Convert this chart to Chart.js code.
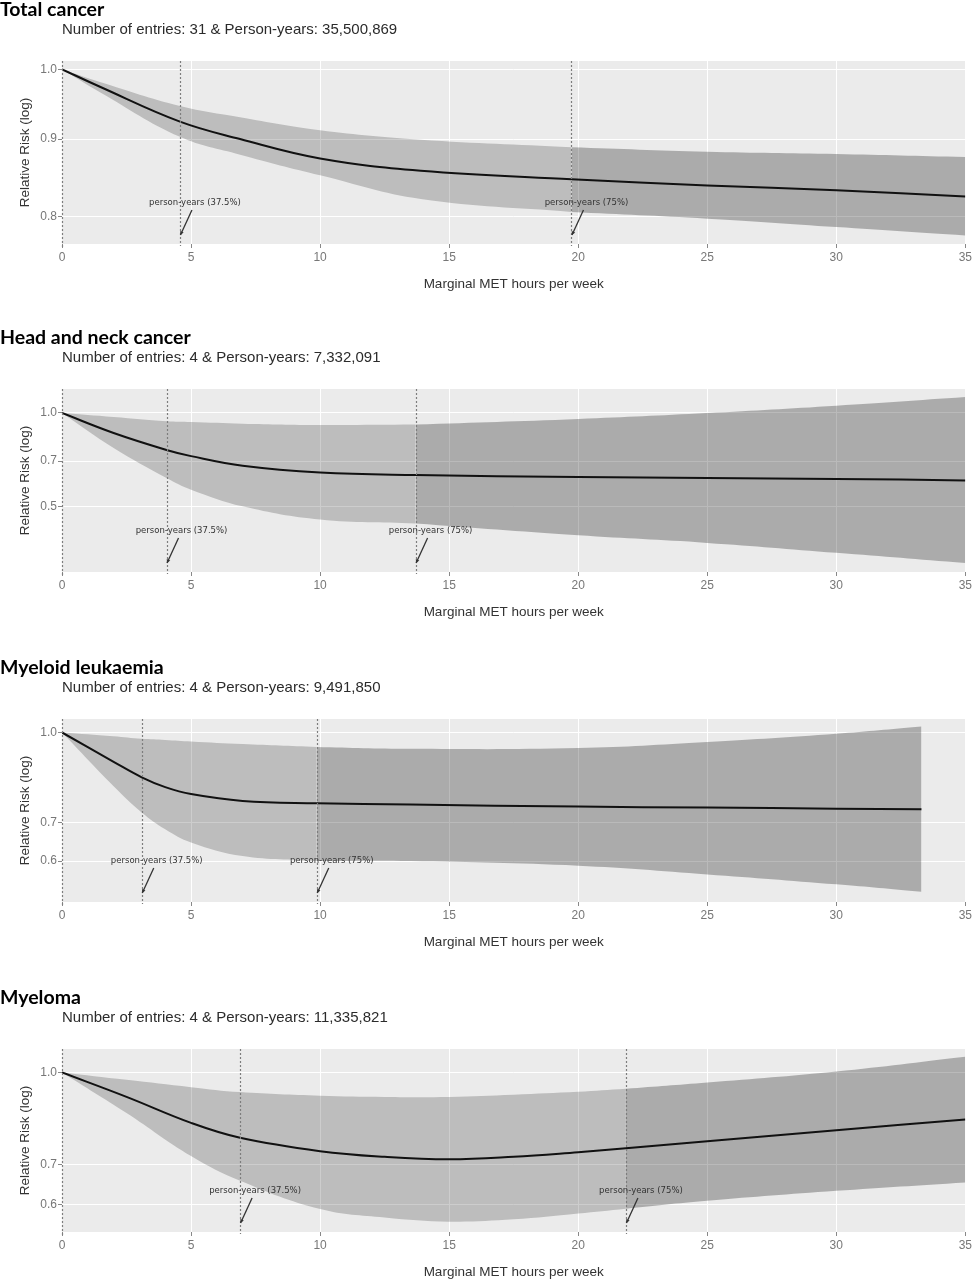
<!DOCTYPE html>
<html>
<head>
<meta charset="utf-8">
<title>Marginal MET hours per week and cancer risk</title>
<script src="https://cdn.jsdelivr.net/npm/chart.js@4.4.1/dist/chart.umd.min.js"></script>
<style>
  html, body { margin: 0; padding: 0; background: #fff; }
  body { width: 974px; height: 1280px; position: relative; overflow: hidden; }
  .panel { position: absolute; left: 0; width: 974px; height: 295px; }
  .panel canvas { display: block; }
</style>
</head>
<body>
<div class="panel" style="top:0px"><canvas id="c0" width="974" height="295"></canvas></div>
<div class="panel" style="top:328px"><canvas id="c1" width="974" height="295"></canvas></div>
<div class="panel" style="top:658px"><canvas id="c2" width="974" height="295"></canvas></div>
<div class="panel" style="top:988px"><canvas id="c3" width="974" height="295"></canvas></div>

<script>
// Panel headings
const panelTitles = ['Total cancer', 'Head and neck cancer', 'Myeloid leukaemia', 'Myeloma'];
const panelSubtitles = [
  'Number of entries: 31 & Person-years: 35,500,869',
  'Number of entries: 4 & Person-years: 7,332,091',
  'Number of entries: 4 & Person-years: 9,491,850',
  'Number of entries: 4 & Person-years: 11,335,821'
];

// Total cancer (x = marginal MET hours per week, values = relative risk)
const totalX   = [0, 1.47, 4.57, 6.9, 10, 13.9, 19.74, 25, 30, 35];
const totalRR  = [1.0, 0.974, 0.924, 0.900, 0.874, 0.858, 0.847, 0.839, 0.833, 0.825];
const totalLow = [1.0, 0.966, 0.903, 0.879, 0.852, 0.822, 0.806, 0.798, 0.788, 0.778];
const totalUp  = [1.0, 0.981, 0.946, 0.930, 0.912, 0.899, 0.889, 0.883, 0.880, 0.876];

// Head and neck cancer
const headX   = [0, 2, 4.05, 5, 7, 10, 13.7, 20, 25, 30, 35];
const headRR  = [1.0, 0.862, 0.760, 0.726, 0.676, 0.643, 0.631, 0.622, 0.617, 0.613, 0.606];
const headLow = [1.0, 0.771, 0.617, 0.566, 0.500, 0.453, 0.440, 0.403, 0.381, 0.354, 0.328];
const headUp  = [1.0, 0.971, 0.940, 0.935, 0.924, 0.915, 0.918, 0.957, 1.000, 1.056, 1.126];

// Myeloid leukaemia
const myelX   = [0, 2, 3.09, 4, 5, 7, 9.87, 13.5, 20, 25, 30, 33.3];
const myelRR  = [1.0, 0.890, 0.837, 0.805, 0.783, 0.762, 0.755, 0.751, 0.745, 0.742, 0.739, 0.737];
const myelLow = [1.0, 0.808, 0.728, 0.681, 0.646, 0.612, 0.600, 0.600, 0.589, 0.569, 0.547, 0.531];
const myelUp  = [1.0, 0.985, 0.975, 0.971, 0.965, 0.955, 0.944, 0.937, 0.940, 0.963, 0.995, 1.024];

// Myeloma
const mmX   = [0, 2.5, 5, 6.9, 10, 12.5, 15, 17.5, 20, 21.85, 25, 30, 35];
const mmRR  = [1.0, 0.910, 0.823, 0.777, 0.738, 0.722, 0.715, 0.722, 0.735, 0.746, 0.767, 0.800, 0.834];
const mmLow = [1.0, 0.855, 0.724, 0.658, 0.590, 0.571, 0.562, 0.567, 0.580, 0.591, 0.609, 0.633, 0.654];
const mmUp  = [1.0, 0.972, 0.945, 0.927, 0.914, 0.910, 0.910, 0.918, 0.928, 0.939, 0.962, 1.004, 1.063];

// person-years reference lines (37.5% and 75%)
const personYearMarks = [[4.57, 19.74], [4.05, 13.7], [3.09, 9.87], [6.9, 21.85]];
const markLabels = ['person-years (37.5%)', 'person-years (75%)'];

// axes
const yTickValues = [[1.0, 0.9, 0.8], [1.0, 0.7, 0.5], [1.0, 0.7, 0.6], [1.0, 0.7, 0.6]];
const yRanges = [[0.768, 1.0126], [0.307, 1.195], [0.513, 1.055], [0.542, 1.095]];
const xMax = 35;
const xStep = 5;

const panels = [
  { x: totalX, rr: totalRR, low: totalLow, up: totalUp },
  { x: headX, rr: headRR, low: headLow, up: headUp },
  { x: myelX, rr: myelRR, low: myelLow, up: myelUp },
  { x: mmX, rr: mmRR, low: mmLow, up: mmUp }
];

const SANS = '"Liberation Sans", Arial, sans-serif';

// build {x,y} points within [from, to]
function pts(xs, ys, from, to) {
  const out = [];
  xs.forEach((x, i) => {
    if (x >= from && x <= to) out.push({ x: x, y: ys[i] });
  });
  return out;
}

// grey panel, headings, dotted reference lines and arrows
const panelDecor = {
  id: 'panelDecor',
  beforeDraw(chart, args, o) {
    const { ctx, chartArea: a } = chart;
    ctx.save();
    ctx.fillStyle = '#ebebeb';
    ctx.fillRect(a.left, a.top, a.right - a.left, a.bottom - a.top);
    ctx.textBaseline = 'alphabetic';
    ctx.textAlign = 'left';
    ctx.fillStyle = '#000';
    ctx.font = 'bold 19.5px Lato, sans-serif';
    ctx.fillText(o.title, 0, a.top - 45);
    ctx.fillStyle = '#2b2b2b';
    ctx.font = '15px ' + SANS;
    ctx.fillText(o.subtitle, a.left, a.top - 27);
    ctx.restore();
  },
  afterDatasetsDraw(chart, args, o) {
    const { ctx, chartArea: a, scales: { x } } = chart;
    ctx.save();
    ctx.strokeStyle = '#7d7d7d';
    ctx.lineWidth = 1.2;
    ctx.setLineDash([2, 2]);
    [0].concat(o.marks).forEach((v, i) => {
      const px = Math.round(x.getPixelForValue(v)) + 0.5;
      ctx.beginPath();
      ctx.moveTo(px, a.top);
      ctx.lineTo(px, a.bottom + (i === 0 ? 4 : 2));
      ctx.stroke();
    });
    ctx.setLineDash([]);

    o.marks.forEach((v, i) => {
      const px = x.getPixelForValue(v);
      const sx = px + 12, sy = a.bottom - 34;
      const tx = px + 0.5, ty = a.bottom - 9;
      ctx.strokeStyle = '#333';
      ctx.fillStyle = '#333';
      ctx.lineWidth = 1.3;
      ctx.beginPath();
      ctx.moveTo(sx, sy);
      ctx.lineTo(tx, ty);
      ctx.stroke();
      // small arrow head
      const ang = Math.atan2(ty - sy, tx - sx);
      ctx.beginPath();
      ctx.moveTo(tx, ty);
      ctx.lineTo(tx - 4 * Math.cos(ang - 0.5), ty - 4 * Math.sin(ang - 0.5));
      ctx.lineTo(tx - 4 * Math.cos(ang + 0.5), ty - 4 * Math.sin(ang + 0.5));
      ctx.closePath();
      ctx.fill();

      ctx.font = '8.5px "DejaVu Sans", sans-serif';
      ctx.textAlign = 'center';
      ctx.textBaseline = 'middle';
      ctx.fillText(o.labels[i], px + 15, a.bottom - 41);
    });
    ctx.restore();
  }
};

panels.forEach((p, i) => {
  const last = p.x[p.x.length - 1];
  const split = personYearMarks[i][1];
  const lightFill = 'rgba(0,0,0,0.195)';
  const darkFill = 'rgba(0,0,0,0.27)';
  const band = {
    borderWidth: 0,
    borderColor: 'rgba(0,0,0,0)',
    pointRadius: 0,
    tension: 0.4
  };

  new Chart(document.getElementById('c' + i), {
    type: 'line',
    data: {
      datasets: [
        Object.assign({ label: 'upper', data: pts(p.x, p.up, 0, split), fill: false }, band),
        Object.assign({ label: 'lower', data: pts(p.x, p.low, 0, split), fill: '-1', backgroundColor: lightFill }, band),
        Object.assign({ label: 'upper2', data: pts(p.x, p.up, split, last), fill: false }, band),
        Object.assign({ label: 'lower2', data: pts(p.x, p.low, split, last), fill: '-1', backgroundColor: darkFill }, band),
        {
          label: 'Relative risk',
          data: pts(p.x, p.rr, 0, last),
          borderColor: '#111',
          borderWidth: 2,
          pointRadius: 0,
          fill: false,
          tension: 0.4,
          order: -1
        }
      ]
    },
    options: {
      responsive: false,
      animation: false,
      devicePixelRatio: 1,
      layout: { padding: { top: 61, right: 8, bottom: 0, left: 0 } },
      plugins: {
        legend: { display: false },
        tooltip: { enabled: false },
        panelDecor: {
          title: panelTitles[i],
          subtitle: panelSubtitles[i],
          marks: personYearMarks[i],
          labels: markLabels
        }
      },
      scales: {
        x: {
          type: 'linear',
          min: 0,
          max: xMax,
          ticks: {
            stepSize: xStep,
            color: '#777',
            font: { family: SANS, size: 12 },
            padding: 2,
            maxRotation: 0
          },
          grid: {
            color: c => (c.tick && c.tick.value === 0 ? 'rgba(0,0,0,0)' : '#ffffff'),
            lineWidth: 1,
            tickColor: '#888',
            tickLength: 4
          },
          border: { display: false },
          title: {
            display: true,
            text: 'Marginal MET hours per week',
            color: '#333',
            font: { family: SANS, size: 13.5 },
            padding: { top: 0, bottom: 3 }
          },
          afterFit: s => { s.height = 51; }
        },
        y: {
          type: 'logarithmic',
          min: yRanges[i][0],
          max: yRanges[i][1],
          afterBuildTicks: s => { s.ticks = yTickValues[i].map(v => ({ value: v })); },
          ticks: {
            callback: v => Number(v).toFixed(1),
            color: '#777',
            font: { family: SANS, size: 12 },
            padding: 1,
            autoSkip: false
          },
          grid: { color: '#ffffff', lineWidth: 1, tickColor: '#888', tickLength: 4 },
          border: { display: false },
          title: {
            display: true,
            text: 'Relative Risk (log)',
            color: '#333',
            font: { family: SANS, size: 13.5 },
            padding: { top: 17, bottom: 0 }
          },
          afterFit: s => { s.width = 62; }
        }
      }
    },
    plugins: [panelDecor]
  });
});
</script>
</body>
</html>
